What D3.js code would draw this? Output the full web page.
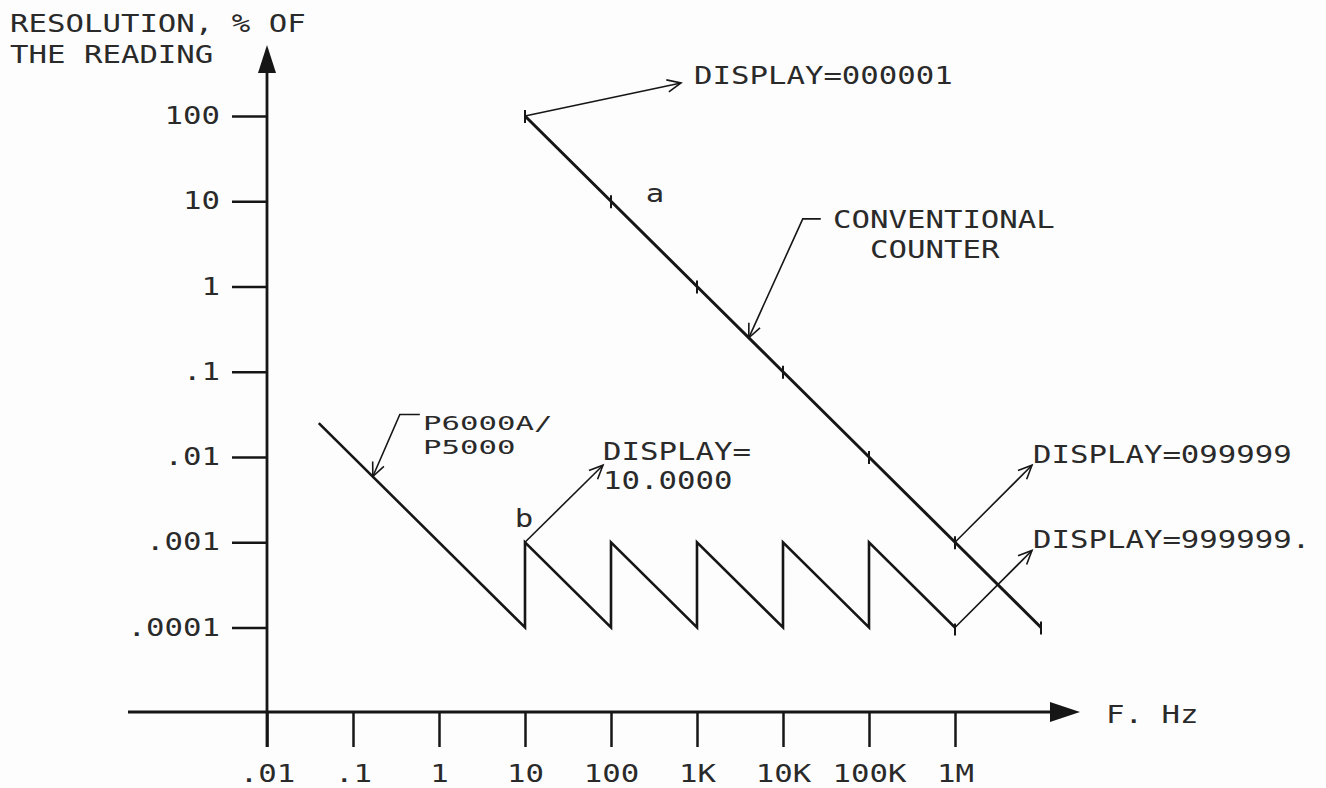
<!DOCTYPE html>
<html>
<head>
<meta charset="utf-8">
<script src="https://cdn.jsdelivr.net/npm/d3@7"></script>
<style>
  html, body { margin: 0; padding: 0; background: #fdfdfd; }
  svg { display: block; }
  text { font-family: "DejaVu Sans Mono", monospace; font-size: 24px; fill: #2a2a2a; }
</style>
</head>
<body>
<svg id="chart" width="1326" height="788"></svg>
<script>
// Frequency axis (Hz), log scale
const freqTicks  = [0.01, 0.1, 1, 10, 100, 1e3, 1e4, 1e5, 1e6];
const freqLabels = [".01", ".1", "1", "10", "100", "1K", "10K", "100K", "1M"];

// Resolution axis (% of the reading), log scale
const resTicks  = [100, 10, 1, 0.1, 0.01, 0.001, 0.0001];
const resLabels = ["100", "10", "1", ".1", ".01", ".001", ".0001"];

// Curve a: conventional counter
const counterFreq = [10, 100, 1e3, 1e4, 1e5, 1e6, 1e7];
const counterRes  = [100, 10, 1, 0.1, 0.01, 0.001, 0.0001];

// Curve b: P6000A / P5000 (sawtooth, range changes every decade)
const sawFreq = [0.04, 10, 10, 100, 100, 1e3, 1e3, 1e4, 1e4, 1e5, 1e5, 1e6];
const sawRes  = [0.025, 0.0001, 0.001, 0.0001, 0.001, 0.0001, 0.001, 0.0001, 0.001, 0.0001, 0.001, 0.0001];

// Points on the curves that the callouts refer to
const calloutFreq = { display000001: 10, display10: 10, display099999: 1e6, display999999: 1e6, conventional: 4000, p6000: 0.17 };
const calloutRes  = { display000001: 100, display10: 0.001, display099999: 0.001, display999999: 0.0001, conventional: 0.25, p6000: 0.0059 };

const svg = d3.select("#chart");
const INK = "#161616";
const SX = 1.28; // horizontal stretch giving the wide plotter lettering

const x = d3.scaleLog().domain([0.01, 1e6]).range([267, 955]);
const y = d3.scaleLog().domain([100, 0.0001]).range([116, 627.5]);

const axisY0 = 712;   // baseline of the frequency axis
const tickLen = 35;

function stretchTicks(g) {
  g.selectAll(".tick text").each(function () {
    const t = d3.select(this);
    const tx = +t.attr("x") || 0, ty = +t.attr("y") || 0;
    t.attr("x", null).attr("y", null)
     .attr("transform", `translate(${tx},${ty}) scale(${SX},1)`)
     .attr("fill", "#2a2a2a");
  });
  g.selectAll(".tick line").attr("stroke", INK).attr("stroke-width", 2.5);
  g.select(".domain").remove();
  g.attr("font-family", null).attr("font-size", null);
}

// Frequency axis ticks and labels
const gx = svg.append("g")
  .attr("transform", `translate(0,${axisY0})`)
  .call(d3.axisBottom(x).tickValues(freqTicks)
        .tickFormat((d, i) => freqLabels[i]).tickSize(tickLen).tickPadding(18));
stretchTicks(gx);

// Resolution axis ticks and labels
const gy = svg.append("g")
  .attr("transform", `translate(${x(0.01)},0)`)
  .call(d3.axisLeft(y).tickValues(resTicks)
        .tickFormat((d, i) => resLabels[i]).tickSize(tickLen).tickPadding(12));
stretchTicks(gy);

// Axis lines with solid arrowheads
const yAxisX = x(0.01);
svg.append("line")
  .attr("x1", x(0.01) - 139).attr("x2", x(1e6) + 96)
  .attr("y1", axisY0).attr("y2", axisY0)
  .attr("stroke", INK).attr("stroke-width", 2.8);
const xTip = x(1e6) + 125;
svg.append("path")
  .attr("d", `M${xTip},${axisY0} L${xTip - 30},${axisY0 - 10} L${xTip - 30},${axisY0 + 10} Z`)
  .attr("fill", INK);

svg.append("line")
  .attr("x1", yAxisX).attr("x2", yAxisX)
  .attr("y1", axisY0 + tickLen).attr("y2", y(100) - 46)
  .attr("stroke", INK).attr("stroke-width", 2.8);
const yTip = y(100) - 71;
svg.append("path")
  .attr("d", `M${yAxisX},${yTip} L${yAxisX - 9},${yTip + 28} L${yAxisX + 9},${yTip + 28} Z`)
  .attr("fill", INK);

// Curves
const line = d3.line().x(d => x(d[0])).y(d => y(d[1]));

const counterPts = counterFreq.map((f, i) => [f, counterRes[i]]);
svg.append("path").datum(counterPts)
  .attr("d", line).attr("fill", "none")
  .attr("stroke", INK).attr("stroke-width", 3).attr("stroke-linejoin", "round");

// small marks at each decade of curve a
svg.selectAll(".counter-mark").data(counterPts).join("line")
  .attr("class", "counter-mark")
  .attr("x1", d => x(d[0])).attr("x2", d => x(d[0]))
  .attr("y1", d => y(d[1]) - 6).attr("y2", d => y(d[1]) + 7)
  .attr("stroke", INK).attr("stroke-width", 2);

const sawPts = sawFreq.map((f, i) => [f, sawRes[i]]);
svg.append("path").datum(sawPts)
  .attr("d", line).attr("fill", "none")
  .attr("stroke", INK).attr("stroke-width", 2.6).attr("stroke-linejoin", "miter");

const sawEnd = sawPts[sawPts.length - 1];
svg.append("line")
  .attr("x1", x(sawEnd[0])).attr("x2", x(sawEnd[0]))
  .attr("y1", y(sawEnd[1]) - 4).attr("y2", y(sawEnd[1]) + 8)
  .attr("stroke", INK).attr("stroke-width", 2);

// Callout arrows with open arrowheads
function arrowHead(tipX, tipY, fromX, fromY, len = 15, half = 0.42) {
  const a = Math.atan2(fromY - tipY, fromX - tipX);
  const p1 = [tipX + len * Math.cos(a - half), tipY + len * Math.sin(a - half)];
  const p2 = [tipX + len * Math.cos(a + half), tipY + len * Math.sin(a + half)];
  svg.append("path")
    .attr("d", `M${p1[0]},${p1[1]} L${tipX},${tipY} L${p2[0]},${p2[1]}`)
    .attr("fill", "none").attr("stroke", INK).attr("stroke-width", 1.6);
}
function leader(points) {
  svg.append("path")
    .attr("d", d3.line()(points))
    .attr("fill", "none").attr("stroke", INK).attr("stroke-width", 1.6);
  const n = points.length;
  arrowHead(points[n - 1][0], points[n - 1][1], points[n - 2][0], points[n - 2][1]);
}
const at = key => [x(calloutFreq[key]), y(calloutRes[key])];

// arrows pointing outward from the curve to the text
let p = at("display000001"); leader([p, [p[0] + 156, p[1] - 33]]);
p = at("display10");         leader([p, [p[0] + 78, p[1] - 77]]);
p = at("display099999");     leader([p, [p[0] + 77, p[1] - 77]]);
p = at("display999999");     leader([p, [p[0] + 77, p[1] - 77]]);
// leaders pointing from the text to the curve
p = at("conventional");      leader([[p[0] + 72, p[1] - 119], [p[0] + 54, p[1] - 119], p]);
p = at("p6000");             leader([[p[0] + 47, p[1] - 62], [p[0] + 27, p[1] - 62], p]);

// Text
function label(tx, ty, str, anchor = "start", size = 24) {
  const sx = SX * 24 / size; // keep the same character pitch at any size
  svg.append("text")
    .attr("transform", `translate(${tx},${ty}) scale(${sx},1)`)
    .attr("text-anchor", anchor)
    .style("font-size", size + "px")
    .text(str);
}
label(10, 32, "RESOLUTION, % OF");
label(10, 63, "THE READING");
label(1106, 723, "F. Hz");

label(694, 84, "DISPLAY=000001");
label(655, 202, "a", "middle");
label(833, 228, "CONVENTIONAL");
label(870, 258, "COUNTER");
label(423, 430, "P6000A/", "start", 20);
label(423, 454, "P5000", "start", 20);
label(524, 527, "b", "middle");
label(603, 460, "DISPLAY=");
label(603, 489, "10.0000");
label(1033, 463, "DISPLAY=099999");
label(1033, 548, "DISPLAY=999999.");
</script>
</body>
</html>
